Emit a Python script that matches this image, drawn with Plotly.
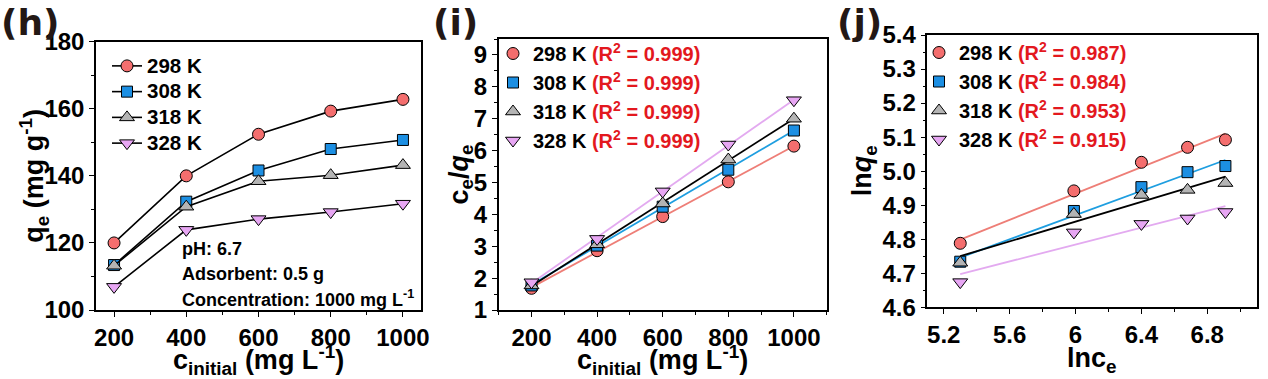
import numpy as np
import plotly.graph_objects as go

# ---------------- data ----------------
temps = ["298 K", "308 K", "318 K", "328 K"]
c_initial = [200, 400, 600, 800, 1000]

# (h) qe vs c_initial
qe_298 = [120.0, 140.0, 152.4, 159.3, 162.8]
qe_308 = [113.4, 132.3, 141.6, 148.0, 150.7]
qe_318 = [113.2, 130.8, 138.4, 140.2, 143.2]
qe_328 = [106.9, 123.9, 127.1, 129.2, 131.7]

# (i) ce/qe vs c_initial
ceqe_298 = [1.68, 2.86, 3.93, 5.02, 6.14]
ceqe_308 = [1.77, 3.02, 4.24, 5.40, 6.63]
ceqe_318 = [1.77, 3.06, 4.34, 5.72, 7.00]
ceqe_328 = [1.87, 3.23, 4.72, 6.19, 7.58]
r2_i = ["0.999", "0.999", "0.999", "0.999"]

# (j) ln qe vs ln ce
lnce = [5.30, 5.99, 6.40, 6.68, 6.91]
lnqe_298 = [4.788, 4.942, 5.026, 5.070, 5.092]
lnqe_308 = [4.734, 4.883, 4.953, 4.997, 5.015]
lnqe_318 = [4.731, 4.874, 4.930, 4.945, 4.965]
lnqe_328 = [4.674, 4.820, 4.845, 4.861, 4.880]
r2_j = ["0.987", "0.984", "0.953", "0.915"]

# ---------------- styles ----------------
FONT = "Arial, 'Liberation Sans', sans-serif"
marker_colors = ["#F46E6E", "#1C8FE3", "#B4B4B4", "#E7A6F3"]
symbols = ["circle", "square", "triangle-up", "triangle-down"]
msizes = [12, 11, 13, 13]
fit_colors = ["#EE7E77", "#1E9EE0", "#000000", "#E3AAF0"]
RED = "#E3181E"

qe_all = [qe_298, qe_308, qe_318, qe_328]
ceqe_all = [ceqe_298, ceqe_308, ceqe_318, ceqe_328]
lnqe_all = [lnqe_298, lnqe_308, lnqe_318, lnqe_328]

fig = go.Figure()

# (h)
for k in range(4):
    fig.add_trace(go.Scatter(
        x=c_initial, y=qe_all[k], mode="lines+markers",
        name=f'<span style="font-size:20.5px">{temps[k]}</span>',
        line=dict(color="black", width=1.6),
        marker=dict(symbol=symbols[k], size=msizes[k], color=marker_colors[k],
                    line=dict(color="black", width=1)),
        xaxis="x", yaxis="y", legend="legend"))

# (i) fit lines then markers
for k in range(4):
    p = np.polyfit(c_initial, ceqe_all[k], 1)
    xs = [min(c_initial), max(c_initial)]
    fig.add_trace(go.Scatter(
        x=xs, y=np.polyval(p, xs), mode="lines", showlegend=False,
        line=dict(color=fit_colors[k], width=1.8), xaxis="x2", yaxis="y2"))
for k in range(4):
    fig.add_trace(go.Scatter(
        x=c_initial, y=ceqe_all[k], mode="markers",
        name=f'{temps[k]} <span style="color:{RED}">(R<sup>2</sup> = {r2_i[k]})</span>',
        marker=dict(symbol=symbols[k], size=msizes[k], color=marker_colors[k],
                    line=dict(color="black", width=1)),
        xaxis="x2", yaxis="y2", legend="legend2"))

# (j)
for k in range(4):
    p = np.polyfit(lnce, lnqe_all[k], 1)
    xs = [min(lnce), max(lnce)]
    fig.add_trace(go.Scatter(
        x=xs, y=np.polyval(p, xs), mode="lines", showlegend=False,
        line=dict(color=fit_colors[k], width=1.8), xaxis="x3", yaxis="y3"))
for k in range(4):
    fig.add_trace(go.Scatter(
        x=lnce, y=lnqe_all[k], mode="markers",
        name=f'{temps[k]} <span style="color:{RED}">(R<sup>2</sup> = {r2_j[k]})</span>',
        marker=dict(symbol=symbols[k], size=msizes[k], color=marker_colors[k],
                    line=dict(color="black", width=1)),
        xaxis="x3", yaxis="y3", legend="legend3"))

W, H = 1268, 379
def px(x):
    return x / W
def py(y):
    return 1 - y / H

tickfont = dict(family=FONT, size=24, color="black", weight="bold")
xtitlefont = dict(family=FONT, size=27, color="black", weight="bold")
ytitlefont = dict(family=FONT, size=27, color="black", weight="bold")

def ax(domain, rng, dtick, minor_dtick, anchor, tickformat=None):
    d = dict(domain=domain, range=rng, dtick=dtick, tick0=0, anchor=anchor,
             showline=True, linecolor="black", linewidth=1.5, mirror=True,
             ticks="outside", ticklen=5, tickwidth=1.3, tickcolor="black",
             minor=dict(ticks="outside", ticklen=3, tickwidth=1.2, dtick=minor_dtick,
                        tickcolor="black", showgrid=False),
             showgrid=False, zeroline=False, tickfont=tickfont)
    if tickformat:
        d["tickformat"] = tickformat
    return d

xh = [px(96), px(421)]
yh = [py(310), py(41.7)]
xi = [px(498.7), px(826.7)]
yi = [py(310), py(39)]
xj = [px(927.3), px(1256.7)]
yj = [py(307.3), py(35)]

legfont20 = dict(family=FONT, size=20, color="black", weight="bold")
legfont_h = dict(family=FONT, size=17.5, color="black", weight="bold")

fig.update_layout(
    width=W, height=H, margin=dict(l=0, r=0, t=0, b=0, autoexpand=False),
    paper_bgcolor="white", plot_bgcolor="white",
    font=dict(family=FONT, color="black"),
    xaxis=ax(xh, [150, 1050], 200, 100, "y"),
    yaxis=ax(yh, [100, 180], 20, 10, "x"),
    xaxis2=ax(xi, [100, 1100], 200, 100, "y2"),
    yaxis2=ax(yi, [1, 9.5], 1, 0.5, "x2"),
    xaxis3=ax(xj, [5.1, 7.1], 0.4, 0.2, "y3"),
    yaxis3=ax(yj, [4.6, 5.4], 0.1, 0.05, "x3", ".1f"),
    legend=dict(x=px(107), y=py(48), xanchor="left", yanchor="top",
                bgcolor="rgba(0,0,0,0)", font=legfont_h, tracegroupgap=0,
                itemwidth=30),
    legend2=dict(x=px(493), y=py(34), xanchor="left", yanchor="top",
                 bgcolor="rgba(0,0,0,0)", font=legfont20),
    legend3=dict(x=px(919), y=py(33), xanchor="left", yanchor="top",
                 bgcolor="rgba(0,0,0,0)", font=legfont20),
    showlegend=True,
)

# x-axis titles
for txt, dom in [("c<sub>initial</sub> (mg L<sup>-1</sup>)", xh),
                 ("c<sub>initial</sub> (mg L<sup>-1</sup>)", xi),
                 ("lnc<sub>e</sub>", xj)]:
    fig.add_annotation(text=txt, x=(dom[0] + dom[1]) / 2, y=py(360), xref="paper", yref="paper",
                       xanchor="center", yanchor="middle", showarrow=False,
                       font=xtitlefont)

# y-axis titles
for txt, x, dom in [("q<sub>e</sub> (mg g<sup>-1</sup>)", 34, yh),
                    ("c<sub>e</sub>/<i>q</i><sub>e</sub>", 460, yi),
                    ("ln<i>q</i><sub>e</sub>", 864, yj)]:
    fig.add_annotation(text=txt, x=px(x), y=(dom[0] + dom[1]) / 2, xref="paper", yref="paper",
                       xanchor="center", yanchor="middle", textangle=-90, showarrow=False,
                       font=ytitlefont)

# panel labels
for lab, x in [("(h)", -1), ("(i)", 431), ("(j)", 835)]:
    fig.add_annotation(text=lab, x=px(x), y=1.0, xref="paper", yref="paper",
                       xanchor="left", yanchor="top", showarrow=False, yshift=0,
                       font=dict(family="'DejaVu Sans', sans-serif", size=36,
                                 color="#231815", weight="bold"))

# conditions text in (h)
for txt, y in [("pH: 6.7", 249), ("Adsorbent: 0.5 g", 274),
               ("Concentration: 1000 mg L<sup>-1</sup>", 298)]:
    fig.add_annotation(text=txt, x=px(180), y=py(y), xref="paper", yref="paper",
                       xanchor="left", yanchor="middle", showarrow=False,
                       font=dict(family=FONT, size=18, color="black", weight="bold"))

fig.write_html("out.html", config={"displayModeBar": False},
               post_script="document.body.style.margin='0px';")
